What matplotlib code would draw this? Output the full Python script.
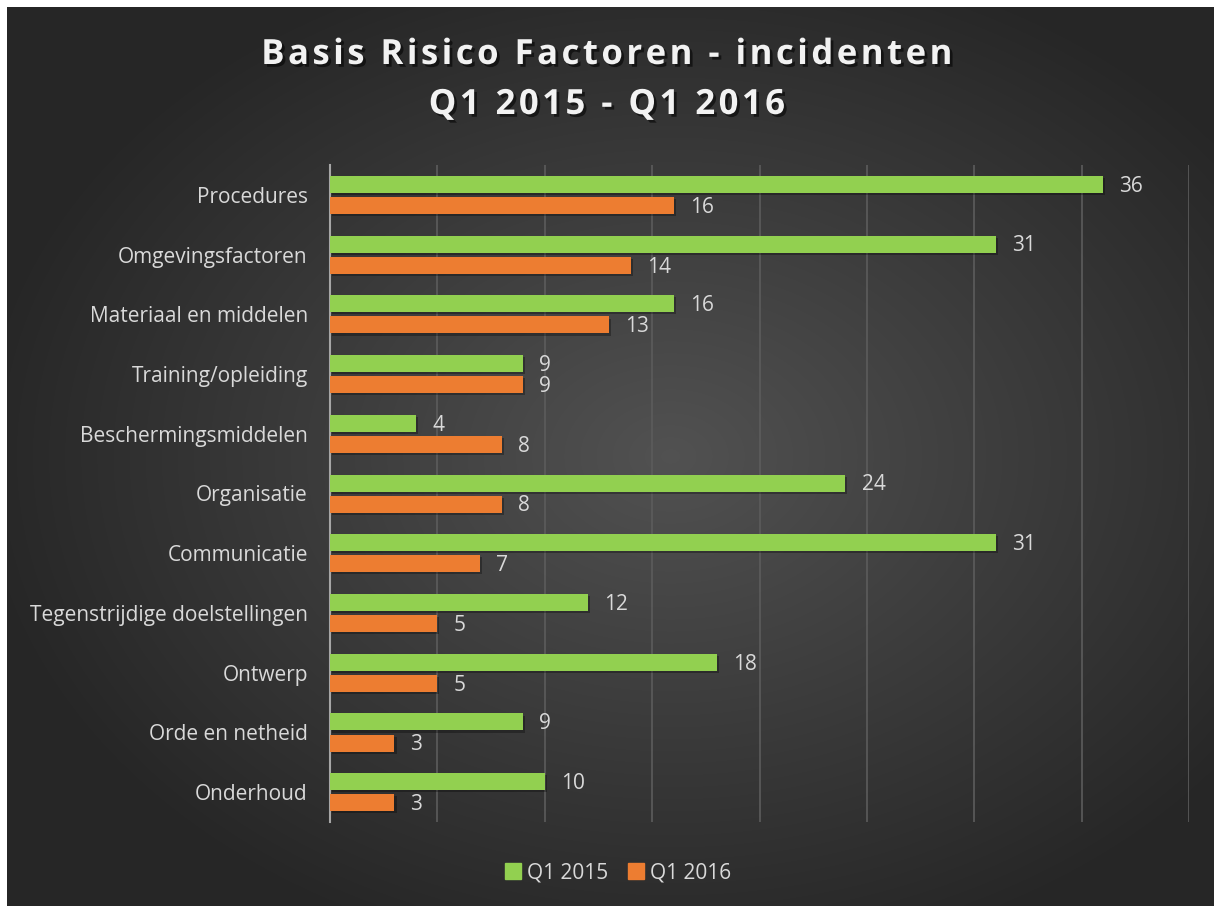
import numpy as np
import matplotlib.pyplot as plt
import matplotlib.patheffects as pe
from matplotlib.lines import Line2D

plt.rcParams['font.family'] = ['Open Sans', 'DejaVu Sans']

categories = ['Procedures', 'Omgevingsfactoren', 'Materiaal en middelen', 'Training/opleiding',
              'Beschermingsmiddelen', 'Organisatie', 'Communicatie',
              'Tegenstrijdige doelstellingen', 'Ontwerp', 'Orde en netheid', 'Onderhoud']
q1_2015 = [36, 31, 16, 9, 4, 24, 31, 12, 18, 9, 10]
q1_2016 = [16, 14, 13, 9, 8, 8, 7, 5, 5, 3, 3]
series_names = ['Q1 2015', 'Q1 2016']
colors = ['#92D050', '#ED7D31']
txt = '#D9D9D9'
title_lines = ['Basis Risico Factoren - incidenten', 'Q1 2015 - Q1 2016']

W, H = 1214, 906
fig = plt.figure(figsize=(W / 100, H / 100), dpi=100, facecolor='white')

# background: radial grey gradient, white strip on top and left
bg = fig.add_axes([7 / W, 0, 1 - 7 / W, 1 - 7 / H], zorder=-10)
yy, xx = np.mgrid[0:1:400j, 0:1:500j]
r = np.sqrt(((xx - 0.55) / 0.75) ** 2 + ((yy - 0.5) / 0.75) ** 2)
shade = np.clip(0.32 - 0.22 * r, 0.15, 0.32)
bg.imshow(np.dstack([shade] * 3), aspect='auto', extent=[0, 1, 0, 1], interpolation='bicubic')
bg.axis('off')

ax = fig.add_axes([330 / W, 1 - 822 / H, 859 / W, 657 / H])
ax.set_facecolor('none')
y = np.arange(len(categories))
h = 0.285
shadow = [pe.SimplePatchShadow(offset=(1.5, -1.5), shadow_rgbFace='black', alpha=0.3), pe.Normal()]
for vals, off, c in [(q1_2015, -0.175, colors[0]), (q1_2016, 0.178, colors[1])]:
    bars = ax.barh(y + off, vals, height=h, color=c, path_effects=shadow, zorder=3)
    for b, v in zip(bars, vals):
        ax.text(v + 0.75, b.get_y() + h / 2 + 0.03, str(v), va='center', ha='left',
                color=txt, fontsize=15, zorder=4)

ax.set_xlim(0, 40)
ax.set_ylim(len(categories) - 0.5, -0.5)
ax.set_xticks(np.arange(0, 41, 5))
ax.set_xticklabels([])
ax.tick_params(axis='x', length=0)
ax.tick_params(axis='y', length=0, pad=16, labelsize=15, labelcolor=txt)
ax.set_yticks(y)
ax.set_yticklabels(categories)
ax.grid(axis='x', color='#5C5C5C', lw=1.2, zorder=0)
for s in ['top', 'right', 'bottom']:
    ax.spines[s].set_visible(False)
ax.spines['left'].set_color('#A6A6A6')
ax.spines['left'].set_linewidth(1.5)

# title with wide letter spacing (hair spaces between letters)
title_fx = [pe.SimplePatchShadow(offset=(2, -2), shadow_rgbFace='black', alpha=0.55), pe.Normal()]
for line, ypix in zip(title_lines, [55, 105]):
    spaced = '\u200a \u200a'.join('\u200a'.join(word) for word in line.split(' '))
    fig.text(0.5, 1 - ypix / H, spaced, ha='center', va='center', fontsize=25,
             fontweight='bold', color='#F2F2F2', path_effects=title_fx)

handles = [Line2D([], [], marker='s', ls='none', color=c, markersize=11) for c in colors]
fig.legend(handles, series_names, loc='center', bbox_to_anchor=(618 / W, 1 - 873 / H), ncol=2,
           frameon=False, fontsize=15, labelcolor=txt, handlelength=0.8,
           handletextpad=0.3, columnspacing=0.9)

fig.savefig('out.png', dpi=100, facecolor='white')
